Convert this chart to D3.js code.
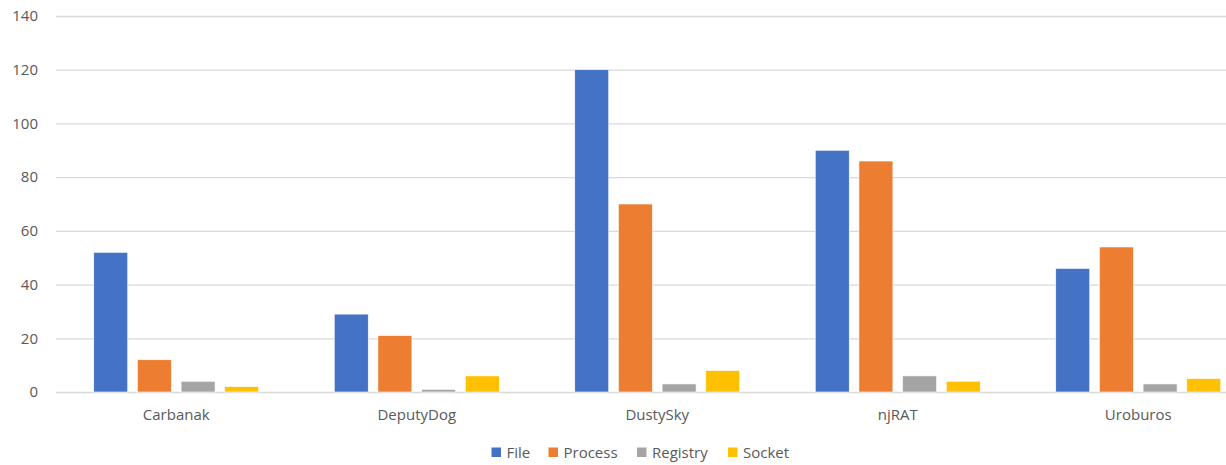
<!DOCTYPE html>
<html>
<head>
<meta charset="utf-8">
<script src="https://cdn.jsdelivr.net/npm/d3@7"></script>
<style>
  html, body { margin: 0; padding: 0; background: #fff; }
  svg { display: block; }
  text { font-family: "Open Sans", "Liberation Sans", sans-serif; fill: #595959; }
</style>
</head>
<body>
<svg id="chart" width="1226" height="465"></svg>
<script>
const categories = ["Carbanak", "DeputyDog", "DustySky", "njRAT", "Uroburos"];
const seriesNames = ["File", "Process", "Registry", "Socket"];
const fileValues = [52, 29, 120, 90, 46];
const processValues = [12, 21, 70, 86, 54];
const registryValues = [4, 1, 3, 6, 3];
const socketValues = [2, 6, 8, 4, 5];
const yTicks = [0, 20, 40, 60, 80, 100, 120, 140];
const colors = ["#4472C4", "#ED7D31", "#A5A5A5", "#FFC000"];

const seriesValues = [fileValues, processValues, registryValues, socketValues];

const svg = d3.select("#chart");
const mLeft = 56, mRight = 1258.5, mTop = 16, mBottom = 392;

const y = d3.scaleLinear().domain([0, 140]).range([mBottom, mTop]);
const x0 = d3.scaleBand().domain(categories).range([mLeft, mRight]).padding(0);
const bw = x0.bandwidth();
const groupW = bw * 0.686;
const x1 = d3.scaleBand().domain(seriesNames)
  .range([(bw - groupW) / 2, (bw + groupW) / 2]).paddingInner(0.222).paddingOuter(0);

// gridlines
const yAxis = d3.axisLeft(y).tickValues(yTicks).tickSize(-(1226 - mLeft)).tickPadding(18);
const gy = svg.append("g").attr("transform", `translate(${mLeft},0)`).call(yAxis);
gy.select(".domain").remove();
gy.selectAll(".tick line").attr("stroke", "#d9d9d9").attr("stroke-width", 1.3);
gy.selectAll(".tick text").attr("font-size", 15).attr("fill", "#595959");

// bars
const groups = svg.append("g").selectAll("g")
  .data(categories).join("g")
  .attr("transform", d => `translate(${x0(d)},0)`);

groups.selectAll("rect")
  .data((c, i) => seriesNames.map((s, j) => ({ s, v: seriesValues[j][i], j })))
  .join("rect")
  .attr("x", d => x1(d.s))
  .attr("width", x1.bandwidth())
  .attr("y", d => y(d.v))
  .attr("height", d => y(0) - y(d.v))
  .attr("fill", d => colors[d.j])
  .attr("stroke", "#fff")
  .attr("stroke-width", 0.6);

// x axis labels
const xAxis = d3.axisBottom(x0).tickSize(0).tickPadding(17);
const gx = svg.append("g").attr("transform", `translate(0,${mBottom})`).call(xAxis);
gx.select(".domain").remove();
gx.selectAll(".tick text").attr("font-size", 15).attr("fill", "#595959");

// legend
const legendX = [491.5, 548.5, 637, 728];
const legend = svg.append("g");
seriesNames.forEach((s, i) => {
  const g = legend.append("g").attr("transform", `translate(${legendX[i]},447.5)`);
  g.append("rect").attr("width", 9.5).attr("height", 9.5).attr("fill", colors[i]);
  g.append("text").attr("x", 15).attr("y", 4.8).attr("dy", "0.35em")
    .attr("font-size", 15).text(s);
});
</script>
</body>
</html>
